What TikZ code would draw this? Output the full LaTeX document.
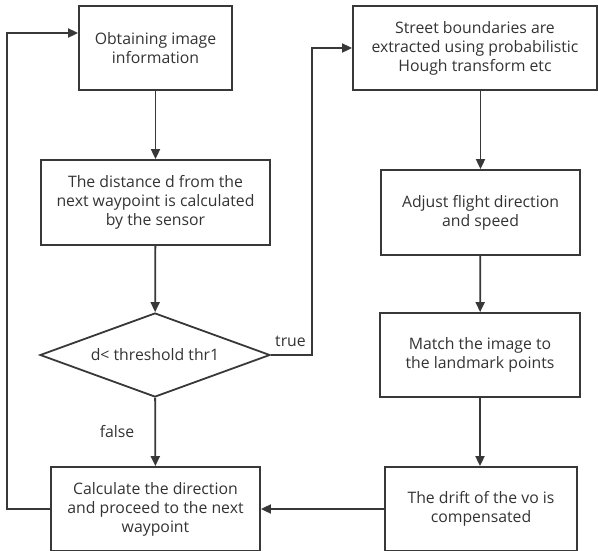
\documentclass[tikz,border=0pt]{standalone}
\usepackage{fontspec}
\setmainfont{Open Sans}
\usetikzlibrary{arrows.meta,shapes.geometric,positioning}
\definecolor{linec}{HTML}{383838}
\definecolor{textc}{HTML}{333333}
\begin{document}
\begin{tikzpicture}[x=1pt,y=-1pt,
  box/.style={draw=linec, line width=1.8pt, align=center, inner sep=0pt, text=textc,
    font=\fontsize{15.8}{19}\selectfont},
  decide/.style={box, diamond, aspect=2.7},
  flow/.style={draw=linec, line width=1.8pt, -{Triangle[length=10pt,width=9pt]}},
  lbl/.style={text=textc, font=\fontsize{15.8}{19}\selectfont, inner sep=0pt}]
\useasboundingbox (0,0) rectangle (598,550);
\node[box, minimum width=153, minimum height=84] (st0) at (155.5,48) {Obtaining image\\information};
\node[box, minimum width=229, minimum height=85] (st1) at (155.5,202.5) {The distance d from the\\next waypoint is calculated\\by the sensor};
\node[decide, minimum width=230, minimum height=84] (st2) at (155,355) {d< threshold thr1};
\node[box, minimum width=209, minimum height=84] (st3) at (155.5,509) {Calculate the direction\\and proceed to the next\\waypoint};
\node[box, minimum width=244, minimum height=84] (st4) at (475,48) {Street boundaries are\\extracted using probabilistic\\Hough transform etc};
\node[box, minimum width=199, minimum height=85] (st5) at (480.5,212.5) {Adjust flight direction\\and speed};
\node[box, minimum width=200, minimum height=84] (st6) at (480,355) {Match the image to\\the landmark points};
\node[box, minimum width=192, minimum height=84] (st7) at (481,509) {The drift of the vo is\\compensated};
\coordinate (turn) at (312,355);
\coordinate (back) at (7,509);
\draw[flow] (st0) -- (st1);
\draw[flow] (st1) -- (st2);
\draw[flow] (st2) -- node[lbl, left=20pt] {false} (st3);
\draw[flow] (st2.east) -- (turn) |- (st4.west);
\node[lbl, above left=8pt and 6pt of turn] (tlbl) {true};
\draw[flow] (st4.south -| st5) -- (st5);
\draw[flow] (st5) -- (st6);
\draw[flow] (st6) -- (st7.north -| st6);
\draw[flow] (st7) -- (st3);
\draw[flow] (st3.west) -- (back) |- ([yshift=15pt]st0.west);
\end{tikzpicture}
\end{document}
